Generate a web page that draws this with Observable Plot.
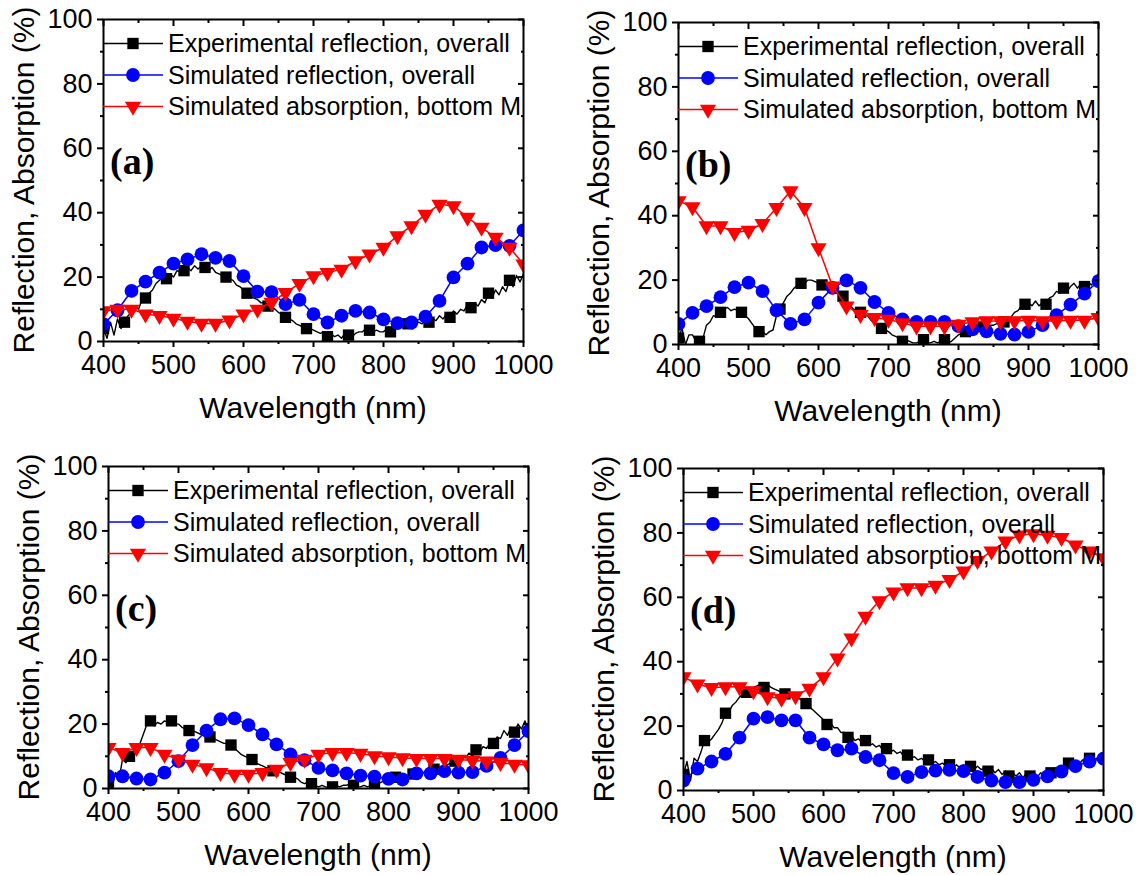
<!DOCTYPE html>
<html>
<head>
<meta charset="utf-8">
<script src="https://cdn.jsdelivr.net/npm/d3@7"></script>
<script src="https://cdn.jsdelivr.net/npm/@observablehq/plot@0.6"></script>
<style>
  html, body { margin: 0; padding: 0; background: #fff; overflow: hidden; }
  #chart { position: relative; width: 1139px; height: 875px; background: #fff; }
  #chart svg { position: absolute; }
</style>
</head>
<body>
<div id="chart"></div>
<script>
// ---------- data ----------
const wavelengthsExp = d3.range(400, 1001, 5);    // experimental sampling (nm)
const wavelengthsSim = d3.range(400, 1001, 20);   // simulation sampling (nm)
const expMarkerWl = [400, 430, 460, 490, 515, 545, 575, 605, 635, 660, 690, 720, 750, 780, 810, 835, 865, 895, 925, 950, 980];

const xMajorTicks = [400, 500, 600, 700, 800, 900, 1000];
const xMinorTicks = [450, 550, 650, 750, 850, 950];
const yMajorTicks = [0, 20, 40, 60, 80, 100];
const yMinorTicks = [10, 30, 50, 70, 90];

const legendLabels = ["Experimental reflection, overall", "Simulated reflection, overall", "Simulated absorption, bottom M"];
const panelLetters = ["(a)", "(b)", "(c)", "(d)"];
const xTitle = "Wavelength (nm)";
const yTitle = "Reflection, Absorption (%)";

// panel (a)
const expA = [4, 1, 6, 2, 7, 4, 6, 8, 9, 11,
  10, 13, 13.5, 15, 16, 18, 19, 20, 19.5, 21,
  20, 22, 21.5, 22, 23, 22, 23.5, 22.5, 23.5, 23,
  22, 23, 21.5, 21, 20.5, 20, 19.5, 19, 17.5, 17,
  16, 15, 14, 13.5, 13, 12, 12, 11, 11, 10,
  9, 8.5, 7.5, 7, 6.5, 5.5, 5, 4.5, 4, 4,
  3.5, 3, 2.5, 3, 1.5, 2.5, 1.5, 2, 1, 2.5,
  2, 1.5, 2.5, 3, 3, 4, 3.5, 3, 3.5, 3,
  3, 4, 3, 4, 4.5, 5, 4.5, 5.5, 5, 5.5,
  6, 5.5, 6.5, 6, 7, 6.5, 8, 7, 8.5, 7.5,
  9.5, 8.5, 10, 9.5, 11.5, 10.5, 12, 11, 13, 12,
  15, 13.5, 16, 14.5, 17, 15.5, 19, 17, 20.5, 18.5,
  21];
const simReflA = [5.4, 9.7, 15.7, 18.6, 21.4, 24.2, 25.5, 27.1, 26, 25, 20.3, 15.5, 15.3, 11.6, 12.9, 8.5, 5.9, 8, 9.5, 9, 6.9, 5.7, 5.9, 7.7, 12.6, 19.9, 24.2, 29.2, 29.9, 29.7, 34.5];
const simAbsA = [9.5, 10, 10, 8.5, 8, 7.2, 6.2, 5.6, 5.6, 6.6, 8.5, 10, 12.1, 15.2, 18, 20.4, 21.4, 22.4, 25, 27.1, 29.2, 32.8, 35.9, 39.5, 42.6, 42.1, 38.5, 35.4, 32.3, 29.2, 24];

// panel (b)
const expB = [2, 5, 0, 3, 3, 1, 1, 2, 6, 7,
  9, 8.5, 10, 11, 11.5, 10.5, 11, 10.5, 10, 9,
  8, 6.5, 5, 4, 4, 3, 4, 4.5, 9, 11,
  13, 15, 16, 17.5, 18.5, 19, 19, 20, 20, 19.5,
  19, 18.5, 18, 17, 17, 16, 15.5, 15, 13, 12,
  11, 10.5, 10, 9.5, 9, 7.5, 6.5, 5.5, 5, 4.5,
  4, 3, 2.5, 2, 1, 1.5, 1, 0.5, 0.5, 1,
  1.5, 0.5, 0.5, 1, 0.5, 1, 1.5, 0.5, 1, 2,
  3, 3.5, 4, 4.5, 5, 5.5, 6, 5.5, 5.5, 6,
  6, 6.5, 6.5, 7, 8, 8.5, 10, 10.5, 12, 12.5,
  13, 12, 13.5, 12, 13, 12.5, 14.5, 15, 16.5, 16,
  17.5, 16.5, 18, 19, 17.5, 19, 18, 19.5, 18.5, 20,
  22];
const simReflB = [6.4, 9.8, 11.9, 14.7, 17.8, 19.2, 16.6, 10.6, 6.4, 7.8, 13, 17.6, 19.9, 17.6, 13.2, 9.8, 7.8, 7, 7, 7, 5.7, 4.7, 4.1, 3.3, 3.1, 3.9, 6, 9.1, 12.4, 15.8, 19.7];
const simAbsB = [44.6, 42.7, 36.8, 36.8, 34.7, 35.4, 37.5, 42.5, 47.7, 42.5, 30, 18.1, 11.9, 9.3, 8.3, 7.8, 6.7, 5.7, 5.7, 5.7, 6.2, 7, 7.3, 7.3, 7.3, 7.5, 7.3, 7.3, 7.5, 7.5, 8.3];

// panel (c)
const expC = [2, 0, 5, 3, 9, 8, 10, 11, 13, 14,
  17, 20, 21, 19.5, 20.5, 20, 21, 20.5, 21, 20,
  20, 19, 18.5, 18, 18, 17.5, 17, 16.5, 16.5, 16,
  15.5, 15, 14.5, 14, 14, 13.5, 12.5, 11.5, 10.5, 10,
  9.5, 9, 8, 7.5, 7, 6.5, 6, 5.5, 5.5, 5,
  4.5, 4, 3.5, 3.5, 3, 2, 1.5, 2, 1.5, 1,
  0.5, 1, 0.5, 0, 0.5, 1, 0.5, 1, 1, 1.5,
  1, 0.5, 0.5, 1, 0.5, 1, 1, 1.5, 2, 2.5,
  3, 3, 3.5, 3, 3.5, 4, 4, 4.5, 4.5, 5,
  5, 5.5, 5.5, 6, 6.5, 6.5, 7, 7.5, 8, 8.5,
  9, 10, 9.5, 11, 10, 12, 11, 13, 12.5, 14,
  14, 16, 15.5, 18, 16.5, 19, 17.5, 20, 18.5, 21,
  18];
const simReflC = [3.8, 3.8, 3.1, 2.8, 4.9, 8.5, 13.5, 18, 21.5, 21.8, 19.7, 16.8, 13.7, 10.6, 8.8, 6.4, 5.6, 4.7, 4, 3.7, 3, 2.8, 4.7, 4.7, 5.4, 4.9, 5.1, 7, 9.5, 13.5, 17.8];
const simAbsC = [12.7, 11.1, 12.7, 12.7, 10.6, 9, 7.5, 6.4, 4.9, 4.4, 4.4, 4.9, 5.9, 8, 9, 10.6, 11.1, 11.1, 10.9, 10.1, 9.8, 9.5, 9.3, 9.3, 9.3, 9, 8.7, 8.5, 8, 7.5, 7.3];

// panel (d)
const expD = [5, 9, 3, 10, 9, 12, 15.5, 15, 16, 17.5,
  19, 21, 24, 24.5, 26.5, 27.5, 29, 30, 30.5, 31,
  32, 32.5, 33, 32, 33, 32, 31.5, 31, 30.5, 30,
  30, 29.5, 29.5, 28.5, 28, 27, 26, 25, 24, 23,
  22, 20.5, 21, 19.5, 19.5, 18, 18, 16.5, 17, 15.5,
  16, 15, 15.5, 14, 14.5, 13.5, 14, 12.5, 13, 12,
  12.5, 11.5, 12, 10.5, 11, 10, 10.5, 9.5, 10, 9,
  9.5, 8.5, 9, 8, 8.5, 7.5, 8, 7, 8, 7,
  8, 7, 7.5, 6.5, 7.5, 6.5, 7, 6, 7, 5.5,
  6.5, 5, 6, 4.5, 5.5, 4.5, 5.5, 4, 5.5, 4.5,
  5.5, 4, 5.5, 5, 6.5, 5.5, 7, 6, 7.5, 6.5,
  8.5, 7.5, 9, 8, 9.5, 8.5, 10, 9, 10, 8.5,
  9];
const simReflD = [3.1, 6.8, 9, 11.4, 16.4, 22.3, 22.8, 21.8, 21.8, 16.4, 14.3, 12.5, 13, 10.4, 9.4, 5.4, 4.2, 5.7, 6.2, 6.4, 6, 4.2, 3.1, 2.6, 2.6, 3.3, 4.4, 5.9, 7.6, 9, 9.9];
const simAbsD = [35.3, 33, 31.9, 32.2, 32.2, 30.9, 29.1, 28.6, 29.4, 31.7, 35.3, 41.1, 47.3, 54.1, 58.9, 61.6, 62.9, 62.9, 63.7, 65.5, 68.1, 71.4, 74.3, 77.4, 79.3, 79.7, 79.2, 78.5, 76.2, 74.3, 72.2];

// ---------- layout & style ----------
const panels = [
  {exp: expA, refl: simReflA, abs: simAbsA, left: 0, top: 0},
  {exp: expB, refl: simReflB, abs: simAbsB, left: 575, top: 3},
  {exp: expC, refl: simReflC, abs: simAbsC, left: 5, top: 447},
  {exp: expD, refl: simReflD, abs: simAbsD, left: 580, top: 449}
];
const BLUE = "#0000ff", RED = "#ff0000", BLACK = "#000000";
const seriesColors = [BLACK, BLUE, RED];
const SANS = "'Liberation Sans', Arial, Helvetica, sans-serif";
const SERIF = "'Liberation Serif', 'Times New Roman', serif";
const W = 560, H = 426, FW = 420, FH = 322;
const mL = 103, mT = 19, mR = W - mL - FW, mB = H - mT - FH;
const rSquare = 6.4, rCircle = 6.9, rTri = 6.0;
const TICK_FONT = 27;

const triangleDown = {
  draw(ctx, size) {
    const y = -Math.sqrt(size / (Math.sqrt(3) * 3));
    ctx.moveTo(0, -y * 2);
    ctx.lineTo(-Math.sqrt(3) * y, y);
    ctx.lineTo(Math.sqrt(3) * y, y);
    ctx.closePath();
  }
};
const legendSymbols = [d3.symbolSquare, d3.symbolCircle, triangleDown];
const legendR = [rSquare, rCircle, rTri];

const container = document.getElementById("chart");

panels.forEach((p, k) => {
  const expData = wavelengthsExp.map((w, i) => ({w, v: p.exp[i]}));
  const expMarks = expData.filter(d => expMarkerWl.includes(d.w));
  const simData = wavelengthsSim.map((w, i) => ({w, r: p.refl[i], a: p.abs[i]}));

  const plot = Plot.plot({
    width: W, height: H,
    marginLeft: mL, marginTop: mT, marginRight: mR, marginBottom: mB,
    x: {domain: [400, 1000]},
    y: {domain: [0, 100]},
    style: {fontFamily: SANS, fontSize: TICK_FONT + "px", color: "black", background: "white", overflow: "visible"},
    marks: [
      Plot.line(expData, {x: "w", y: "v", stroke: BLACK, strokeWidth: 1.4, clip: true}),
      Plot.dot(expMarks, {x: "w", y: "v", symbol: "square", r: rSquare, fill: BLACK, stroke: "none", clip: true}),
      Plot.line(simData, {x: "w", y: "r", stroke: BLUE, strokeWidth: 1.5, clip: true}),
      Plot.dot(simData, {x: "w", y: "r", symbol: "circle", r: rCircle, fill: BLUE, stroke: "none", clip: true}),
      Plot.line(simData, {x: "w", y: "a", stroke: RED, strokeWidth: 1.5, clip: true}),
      Plot.dot(simData, {x: "w", y: "a", symbol: triangleDown, r: rTri, fill: RED, stroke: "none", clip: true}),
      Plot.axisX({ticks: xMajorTicks, tickSize: 6, tickPadding: 7, strokeWidth: 2, fontSize: TICK_FONT, tickFormat: "d", label: null}),
      Plot.axisX({ticks: xMinorTicks, tickSize: 3, strokeWidth: 2, text: null, label: null}),
      Plot.axisX({anchor: "top", ticks: xMajorTicks, tickSize: -6, strokeWidth: 2, text: null, label: null}),
      Plot.axisX({anchor: "top", ticks: xMinorTicks, tickSize: -3, strokeWidth: 2, text: null, label: null}),
      Plot.axisY({ticks: yMajorTicks, tickSize: 6, tickPadding: 5, strokeWidth: 2, fontSize: TICK_FONT, tickFormat: "d", label: null}),
      Plot.axisY({ticks: yMinorTicks, tickSize: 3, strokeWidth: 2, text: null, label: null}),
      Plot.axisY({anchor: "right", ticks: yMajorTicks, tickSize: -6, strokeWidth: 2, text: null, label: null}),
      Plot.axisY({anchor: "right", ticks: yMinorTicks, tickSize: -3, strokeWidth: 2, text: null, label: null}),
      Plot.frame({stroke: BLACK, strokeWidth: 2})
    ]
  });

  plot.style.left = p.left + "px";
  plot.style.top = p.top + "px";
  const svg = d3.select(plot);

  // axis titles
  svg.append("text")
    .attr("x", mL + FW / 2).attr("y", mT + FH + 77)
    .attr("text-anchor", "middle").attr("font-family", SANS).attr("font-size", 30).attr("fill", "black")
    .text(xTitle);
  svg.append("text")
    .attr("transform", `translate(${mL - 69},${mT + FH / 2}) rotate(-90)`)
    .attr("text-anchor", "middle").attr("font-family", SANS).attr("font-size", 30).attr("fill", "black")
    .text(yTitle);

  // panel letter
  svg.append("text")
    .attr("x", mL + 7).attr("y", mT + 155)
    .attr("text-anchor", "start")
    .attr("font-family", SERIF).attr("font-weight", "bold").attr("font-size", 38).attr("fill", "black")
    .text(panelLetters[k]);

  // legend
  const rowOffsets = [24.5, 56, 87.5];
  const lg = svg.append("g").attr("font-family", SANS).attr("font-size", 25).attr("fill", "black")
    .attr("text-anchor", "start");
  legendLabels.forEach((lab, i) => {
    const y = mT + rowOffsets[i];
    lg.append("line").attr("x1", mL).attr("x2", mL + 60).attr("y1", y).attr("y2", y)
      .attr("stroke", seriesColors[i]).attr("stroke-width", 1.5);
    lg.append("path").attr("d", d3.symbol(legendSymbols[i], Math.PI * legendR[i] * legendR[i])())
      .attr("transform", `translate(${mL + 30},${y})`).attr("fill", seriesColors[i]);
    lg.append("text").attr("x", mL + 65).attr("y", y).attr("dy", "0.35em")
      .attr("text-anchor", "start").text(lab);
  });

  container.appendChild(plot);
});
</script>
</body>
</html>
